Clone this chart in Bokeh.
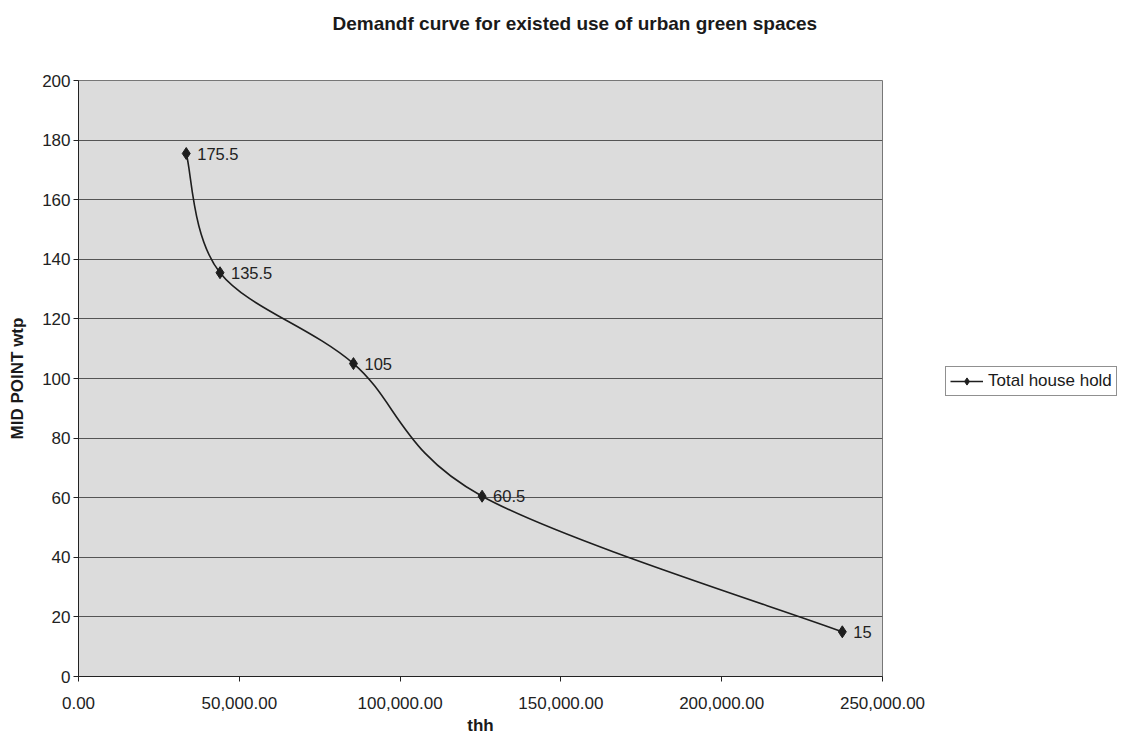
from bokeh.plotting import figure
from bokeh.layouts import row
from bokeh.models import (ColumnDataSource, Legend, LegendItem, NumeralTickFormatter,
                          FixedTicker, Range1d, LabelSet, LinearAxis, Title)
from bokeh.core.properties import value
from bokeh.embed import file_html
from bokeh.resources import INLINE

# Demand curve data: total households vs. mid-point willingness to pay
thh = [33500, 44000, 85500, 125500, 237500]
wtp = [175.5, 135.5, 105, 60.5, 15]
point_labels = ["175.5", "135.5", "105", "60.5", "15"]
series_name = "Total house hold"
chart_title = "Demandf curve for existed use of urban green spaces"

x_ticks = [0, 50000, 100000, 150000, 200000, 250000]
y_ticks = [0, 20, 40, 60, 80, 100, 120, 140, 160, 180, 200]

FONT = "Liberation Sans"
INK = "#1e1e1e"

p = figure(width=935, height=746, output_backend="svg", toolbar_location=None,
           title=None,
           x_range=Range1d(0, 250000), y_range=Range1d(0, 200),
           min_border_left=78, min_border_right=53, min_border_top=80,
           min_border_bottom=70)

p.background_fill_color = "#dcdcdc"
p.border_fill_color = "white"
p.outline_line_color = "#777777"
p.outline_line_width = 1

# Axes
xax = p.below[0]
yax = p.left[0]
xax.ticker = FixedTicker(ticks=x_ticks)
yax.ticker = FixedTicker(ticks=y_ticks)
xax.formatter = NumeralTickFormatter(format="0,0.00")
xax.axis_label = "thh"
yax.axis_label = "MID POINT wtp"
for ax in (xax, yax):
    ax.axis_label_text_font = FONT
    ax.axis_label_text_font_style = "bold"
    ax.axis_label_text_font_size = "17px"
    ax.axis_label_text_color = "#1a1a1a"
    ax.major_label_text_font = FONT
    ax.major_label_text_font_size = "17px"
    ax.major_label_text_color = "#222222"
    ax.axis_line_color = "#222222"
    ax.major_tick_line_color = "#222222"
    ax.major_tick_in = 0
    ax.major_tick_out = 5
    ax.minor_tick_line_color = None
xax.major_label_standoff = 15
xax.axis_label_standoff = 4
yax.major_label_standoff = 3
yax.axis_label_standoff = 12

p.xgrid.grid_line_color = None
p.ygrid.grid_line_color = "#555555"
p.ygrid.grid_line_width = 1

# Blank band above the plot area (an unlabelled, invisible axis), so the
# title sits near the top edge
gap = LinearAxis(ticker=FixedTicker(ticks=[0]), major_label_overrides={0: ""},
                 major_tick_out=47, major_tick_in=0, major_label_standoff=0,
                 major_label_text_font_size="1px", major_label_text_alpha=0,
                 axis_line_color=None, major_tick_line_color=None,
                 minor_tick_line_color=None)
p.add_layout(gap, "above")

title = Title(text=chart_title, align="left", offset=254, standoff=0,
              text_font=FONT, text_font_size="19px", text_font_style="bold",
              text_color="#1a1a1a")
p.add_layout(title, "above")

# Smoothed line: cubic Bezier segments built from the points (Catmull-Rom style)
n = len(thh)
x0, y0, x1, y1, cx0, cy0, cx1, cy1 = [], [], [], [], [], [], [], []
for i in range(n - 1):
    pxm, pym = (thh[i - 1], wtp[i - 1]) if i > 0 else (thh[i], wtp[i])
    pxa, pya = thh[i], wtp[i]
    pxb, pyb = thh[i + 1], wtp[i + 1]
    pxp, pyp = (thh[i + 2], wtp[i + 2]) if i + 2 < n else (thh[i + 1], wtp[i + 1])
    x0.append(pxa); y0.append(pya); x1.append(pxb); y1.append(pyb)
    cx0.append(pxa + (pxb - pxm) / 6.0); cy0.append(pya + (pyb - pym) / 6.0)
    cx1.append(pxb - (pxp - pxa) / 6.0); cy1.append(pyb - (pyp - pya) / 6.0)

p.bezier(x0=x0, y0=y0, x1=x1, y1=y1, cx0=cx0, cy0=cy0, cx1=cx1, cy1=cy1,
         line_color=INK, line_width=1.6)

src = ColumnDataSource(dict(x=thh, y=wtp, lab=point_labels))
p.scatter("x", "y", source=src, marker="diamond", size=12,
          fill_color=INK, line_color=INK)

labels = LabelSet(x="x", y="y", text="lab", source=src, x_offset=11, y_offset=0,
                  text_font=value(FONT), text_font_size="16.5px",
                  text_color="#222222", text_baseline="middle")
p.add_layout(labels)

# Legend panel to the right of the plot area; its key renderers share the
# series data but lie outside this panel's own (unit) ranges
lp = figure(width=198, height=746, output_backend="svg", toolbar_location=None,
            x_range=Range1d(0, 1), y_range=Range1d(0, 1),
            x_axis_type=None, y_axis_type=None, min_border=0)
lp.outline_line_color = None
lp.background_fill_color = "white"
lp.border_fill_color = "white"
lp.xgrid.grid_line_color = None
lp.ygrid.grid_line_color = None
key_line = lp.line("x", "y", source=src, line_color=INK, line_width=1.6)
key_pt = lp.scatter("x", "y", source=src, marker="diamond", size=12,
                    fill_color=INK, line_color=INK)

legend = Legend(items=[LegendItem(label=series_name, renderers=[key_line, key_pt])],
                location=(10, 280), orientation="vertical",
                label_text_font=FONT, label_text_font_size="17px",
                label_text_color="#1a1a1a",
                border_line_color="#222222", border_line_width=1,
                background_fill_color="white", background_fill_alpha=1,
                padding=4, margin=0, glyph_width=33, glyph_height=18,
                label_height=18, label_standoff=5, spacing=0)
lp.add_layout(legend)

layout = row(p, lp, spacing=0)
open("out.html", "w").write(file_html(layout, INLINE))
